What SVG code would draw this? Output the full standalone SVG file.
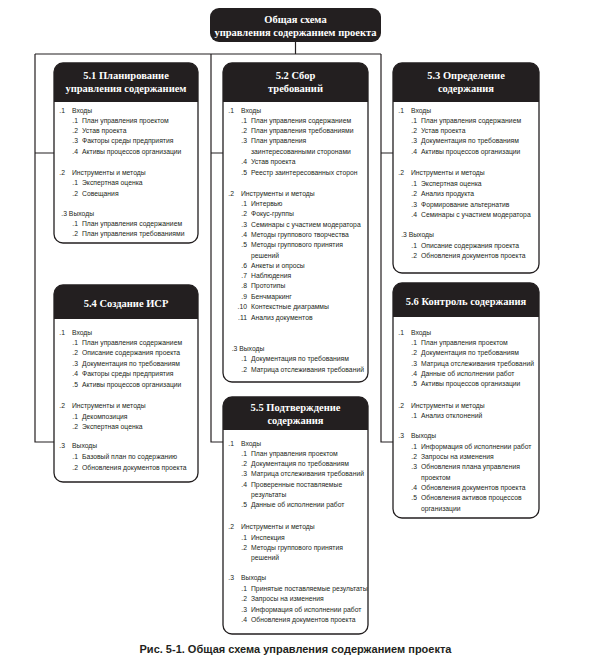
<svg xmlns="http://www.w3.org/2000/svg" width="591" height="660" viewBox="0 0 591 660">
<style>
.box{fill:#fff;stroke:#231f20;stroke-width:1.3}
.hdr{fill:#231f20}
.hd{font-family:"Liberation Serif",serif;font-weight:bold;font-size:10.5px;fill:#fff;text-anchor:middle}
.t{font-family:"Liberation Sans",sans-serif;font-size:8.1px;fill:#231f20}
.n{text-anchor:end}
.con{fill:none;stroke:#231f20;stroke-width:1.2}
.cap{font-family:"Liberation Sans",sans-serif;font-weight:bold;font-size:11px;fill:#231f20;text-anchor:middle}
</style>
<rect width="591" height="660" fill="#fff"/>
<g id="connectors" class="con">
<path d="M295.5,42 V54 M35,54 H381"/>
<path d="M35,54 V442 H54 M35,153 H54"/>
<path d="M211,54 V442 H223 M211,153 H223"/>
<path d="M381,54 V442 H393 M381,153 H393"/>
</g>
<g id="top">
<rect x="210" y="8" width="171" height="34" rx="9" class="hdr"/>
<text class="hd" x="295.5" y="22.5">Общая схема</text>
<text class="hd" x="295.5" y="36">управления содержанием проекта</text>
</g>
<g id="n51">
<rect x="54" y="63" width="144" height="180" rx="9" class="box"/>
<path class="hdr" d="M54,102 V72 A9,9 0 0 1 63,63 H189 A9,9 0 0 1 198,72 V102 Z"/>
<text class="hd" x="126" y="79">5.1 Планирование</text>
<text class="hd" x="126" y="92">управления содержанием</text>
<g class="t" transform="translate(54,0) scale(0.84,1)">
<text class="n" x="13.1" y="113">.1</text><text x="21.4" y="113">Входы</text>
<text class="n" x="28.6" y="123">.1</text><text x="33.3" y="123">План управления проектом</text>
<text class="n" x="28.6" y="133">.2</text><text x="33.3" y="133">Устав проекта</text>
<text class="n" x="28.6" y="143.5">.3</text><text x="33.3" y="143.5">Факторы среды предприятия</text>
<text class="n" x="28.6" y="154">.4</text><text x="33.3" y="154">Активы процессов организации</text>
<text class="n" x="13.1" y="175">.2</text><text x="21.4" y="175">Инструменты и методы</text>
<text class="n" x="28.6" y="185.5">.1</text><text x="33.3" y="185.5">Экспертная оценка</text>
<text class="n" x="28.6" y="196">.2</text><text x="33.3" y="196">Совещания</text>
<text x="8.7" y="216">.3 Выходы</text>
<text class="n" x="28.6" y="226">.1</text><text x="33.3" y="226">План управления содержанием</text>
<text class="n" x="28.6" y="236">.2</text><text x="33.3" y="236">План управления требованиями</text>
</g>
</g>
<g id="n52">
<rect x="223" y="63" width="145" height="319" rx="9" class="box"/>
<path class="hdr" d="M223,102 V72 A9,9 0 0 1 232,63 H359 A9,9 0 0 1 368,72 V102 Z"/>
<text class="hd" x="295.5" y="79">5.2 Сбор</text>
<text class="hd" x="295.5" y="92">требований</text>
<g class="t" transform="translate(223,0) scale(0.84,1)">
<text class="n" x="13.1" y="113">.1</text><text x="21.4" y="113">Входы</text>
<text class="n" x="28.6" y="123">.1</text><text x="33.3" y="123">План управления содержанием</text>
<text class="n" x="28.6" y="133">.2</text><text x="33.3" y="133">План управления требованиями</text>
<text class="n" x="28.6" y="143.5">.3</text><text x="33.3" y="143.5">План управления</text>
<text x="33.3" y="154">заинтересованными сторонами</text>
<text class="n" x="28.6" y="164.5">.4</text><text x="33.3" y="164.5">Устав проекта</text>
<text class="n" x="28.6" y="175">.5</text><text x="33.3" y="175">Реестр заинтересованных сторон</text>
<text class="n" x="13.1" y="196.5">.2</text><text x="21.4" y="196.5">Инструменты и методы</text>
<text class="n" x="28.6" y="206.5">.1</text><text x="33.3" y="206.5">Интервью</text>
<text class="n" x="28.6" y="216.5">.2</text><text x="33.3" y="216.5">Фокус-группы</text>
<text class="n" x="28.6" y="227">.3</text><text x="33.3" y="227">Семинары с участием модератора</text>
<text class="n" x="28.6" y="237">.4</text><text x="33.3" y="237">Методы группового творчества</text>
<text class="n" x="28.6" y="247.5">.5</text><text x="33.3" y="247.5">Методы группового принятия</text>
<text x="33.3" y="258">решений</text>
<text class="n" x="28.6" y="268">.6</text><text x="33.3" y="268">Анкеты и опросы</text>
<text class="n" x="28.6" y="278">.7</text><text x="33.3" y="278">Наблюдения</text>
<text class="n" x="28.6" y="288.5">.8</text><text x="33.3" y="288.5">Прототипы</text>
<text class="n" x="28.6" y="299">.9</text><text x="33.3" y="299">Бенчмаркинг</text>
<text class="n" x="28.6" y="309.5">.10</text><text x="33.3" y="309.5">Контекстные диаграммы</text>
<text class="n" x="28.6" y="320">.11</text><text x="33.3" y="320">Анализ документов</text>
<text x="10.3" y="351">.3 Выходы</text>
<text class="n" x="28.6" y="361.5">.1</text><text x="33.3" y="361.5">Документация по требованиям</text>
<text class="n" x="28.6" y="372">.2</text><text x="33.3" y="372">Матрица отслеживания требований</text>
</g>
</g>
<g id="n53">
<rect x="393" y="63" width="146" height="210" rx="9" class="box"/>
<path class="hdr" d="M393,102 V72 A9,9 0 0 1 402,63 H530 A9,9 0 0 1 539,72 V102 Z"/>
<text class="hd" x="466" y="79">5.3 Определение</text>
<text class="hd" x="466" y="92">содержания</text>
<g class="t" transform="translate(393,0) scale(0.84,1)">
<text class="n" x="13.1" y="113">.1</text><text x="21.4" y="113">Входы</text>
<text class="n" x="28.6" y="123">.1</text><text x="33.3" y="123">План управления содержанием</text>
<text class="n" x="28.6" y="133">.2</text><text x="33.3" y="133">Устав проекта</text>
<text class="n" x="28.6" y="143.5">.3</text><text x="33.3" y="143.5">Документация по требованиям</text>
<text class="n" x="28.6" y="154">.4</text><text x="33.3" y="154">Активы процессов организации</text>
<text class="n" x="13.1" y="175">.2</text><text x="21.4" y="175">Инструменты и методы</text>
<text class="n" x="28.6" y="186">.1</text><text x="33.3" y="186">Экспертная оценка</text>
<text class="n" x="28.6" y="196">.2</text><text x="33.3" y="196">Анализ продукта</text>
<text class="n" x="28.6" y="207">.3</text><text x="33.3" y="207">Формирование альтернатив</text>
<text class="n" x="28.6" y="217">.4</text><text x="33.3" y="217">Семинары с участием модератора</text>
<text x="9.7" y="237">.3 Выходы</text>
<text class="n" x="28.6" y="248">.1</text><text x="33.3" y="248">Описание содержания проекта</text>
<text class="n" x="28.6" y="258">.2</text><text x="33.3" y="258">Обновления документов проекта</text>
</g>
</g>
<g id="n54">
<rect x="54" y="285" width="144" height="197" rx="9" class="box"/>
<path class="hdr" d="M54,319 V294 A9,9 0 0 1 63,285 H189 A9,9 0 0 1 198,294 V319 Z"/>
<text class="hd" x="126" y="306.5">5.4 Создание ИСР</text>
<g class="t" transform="translate(54,0) scale(0.84,1)">
<text class="n" x="13.1" y="335">.1</text><text x="21.4" y="335">Входы</text>
<text class="n" x="28.6" y="345">.1</text><text x="33.3" y="345">План управления содержанием</text>
<text class="n" x="28.6" y="355">.2</text><text x="33.3" y="355">Описание содержания проекта</text>
<text class="n" x="28.6" y="366">.3</text><text x="33.3" y="366">Документация по требованиям</text>
<text class="n" x="28.6" y="376">.4</text><text x="33.3" y="376">Факторы среды предприятия</text>
<text class="n" x="28.6" y="387">.5</text><text x="33.3" y="387">Активы процессов организации</text>
<text class="n" x="13.1" y="408.5">.2</text><text x="21.4" y="408.5">Инструменты и методы</text>
<text class="n" x="28.6" y="419">.1</text><text x="33.3" y="419">Декомпозиция</text>
<text class="n" x="28.6" y="429">.2</text><text x="33.3" y="429">Экспертная оценка</text>
<text class="n" x="13.1" y="448.5">.3</text><text x="21.4" y="448.5">Выходы</text>
<text class="n" x="28.6" y="459.5">.1</text><text x="33.3" y="459.5">Базовый план по содержанию</text>
<text class="n" x="28.6" y="470.5">.2</text><text x="33.3" y="470.5">Обновления документов проекта</text>
</g>
</g>
<g id="n55">
<rect x="223" y="397" width="145" height="237" rx="9" class="box"/>
<path class="hdr" d="M223,430 V406 A9,9 0 0 1 232,397 H359 A9,9 0 0 1 368,406 V430 Z"/>
<text class="hd" x="295.5" y="411">5.5 Подтверждение</text>
<text class="hd" x="295.5" y="424">содержания</text>
<g class="t" transform="translate(223,0) scale(0.84,1)">
<text class="n" x="13.1" y="446">.1</text><text x="21.4" y="446">Входы</text>
<text class="n" x="28.6" y="456">.1</text><text x="33.3" y="456">План управления проектом</text>
<text class="n" x="28.6" y="466">.2</text><text x="33.3" y="466">Документация по требованиям</text>
<text class="n" x="28.6" y="476.5">.3</text><text x="33.3" y="476.5">Матрица отслеживания требований</text>
<text class="n" x="28.6" y="487">.4</text><text x="33.3" y="487">Проверенные поставляемые</text>
<text x="33.3" y="497">результаты</text>
<text class="n" x="28.6" y="507.5">.5</text><text x="33.3" y="507.5">Данные об исполнении работ</text>
<text class="n" x="13.1" y="529.5">.2</text><text x="21.4" y="529.5">Инструменты и методы</text>
<text class="n" x="28.6" y="540">.1</text><text x="33.3" y="540">Инспекция</text>
<text class="n" x="28.6" y="550">.2</text><text x="33.3" y="550">Методы группового принятия</text>
<text x="33.3" y="560">решений</text>
<text class="n" x="13.1" y="580.5">.3</text><text x="21.4" y="580.5">Выходы</text>
<text class="n" x="28.6" y="591">.1</text><text x="33.3" y="591">Принятые поставляемые результаты</text>
<text class="n" x="28.6" y="601.5">.2</text><text x="33.3" y="601.5">Запросы на изменения</text>
<text class="n" x="28.6" y="612">.3</text><text x="33.3" y="612">Информация об исполнении работ</text>
<text class="n" x="28.6" y="622">.4</text><text x="33.3" y="622">Обновления документов проекта</text>
</g>
</g>
<g id="n56">
<rect x="393" y="283" width="146" height="235" rx="9" class="box"/>
<path class="hdr" d="M393,317 V292 A9,9 0 0 1 402,283 H530 A9,9 0 0 1 539,292 V317 Z"/>
<text class="hd" x="466" y="304.5">5.6 Контроль содержания</text>
<g class="t" transform="translate(393,0) scale(0.84,1)">
<text class="n" x="13.1" y="335">.1</text><text x="21.4" y="335">Входы</text>
<text class="n" x="28.6" y="345">.1</text><text x="33.3" y="345">План управления проектом</text>
<text class="n" x="28.6" y="355.5">.2</text><text x="33.3" y="355.5">Документация по требованиям</text>
<text class="n" x="28.6" y="366">.3</text><text x="33.3" y="366">Матрица отслеживания требований</text>
<text class="n" x="28.6" y="376">.4</text><text x="33.3" y="376">Данные об исполнении работ</text>
<text class="n" x="28.6" y="386.5">.5</text><text x="33.3" y="386.5">Активы процессов организации</text>
<text class="n" x="13.1" y="408">.2</text><text x="21.4" y="408">Инструменты и методы</text>
<text class="n" x="28.6" y="418">.1</text><text x="33.3" y="418">Анализ отклонений</text>
<text class="n" x="13.1" y="438.5">.3</text><text x="21.4" y="438.5">Выходы</text>
<text class="n" x="28.6" y="449">.1</text><text x="33.3" y="449">Информация об исполнении работ</text>
<text class="n" x="28.6" y="459">.2</text><text x="33.3" y="459">Запросы на изменения</text>
<text class="n" x="28.6" y="469.5">.3</text><text x="33.3" y="469.5">Обновления плана управления</text>
<text x="33.3" y="480">проектом</text>
<text class="n" x="28.6" y="490">.4</text><text x="33.3" y="490">Обновления документов проекта</text>
<text class="n" x="28.6" y="500.5">.5</text><text x="33.3" y="500.5">Обновления активов процессов</text>
<text x="33.3" y="511">организации</text>
</g>
</g>
<text id="caption" class="cap" x="295.5" y="653">Рис. 5-1. Общая схема управления содержанием проекта</text>
</svg>
